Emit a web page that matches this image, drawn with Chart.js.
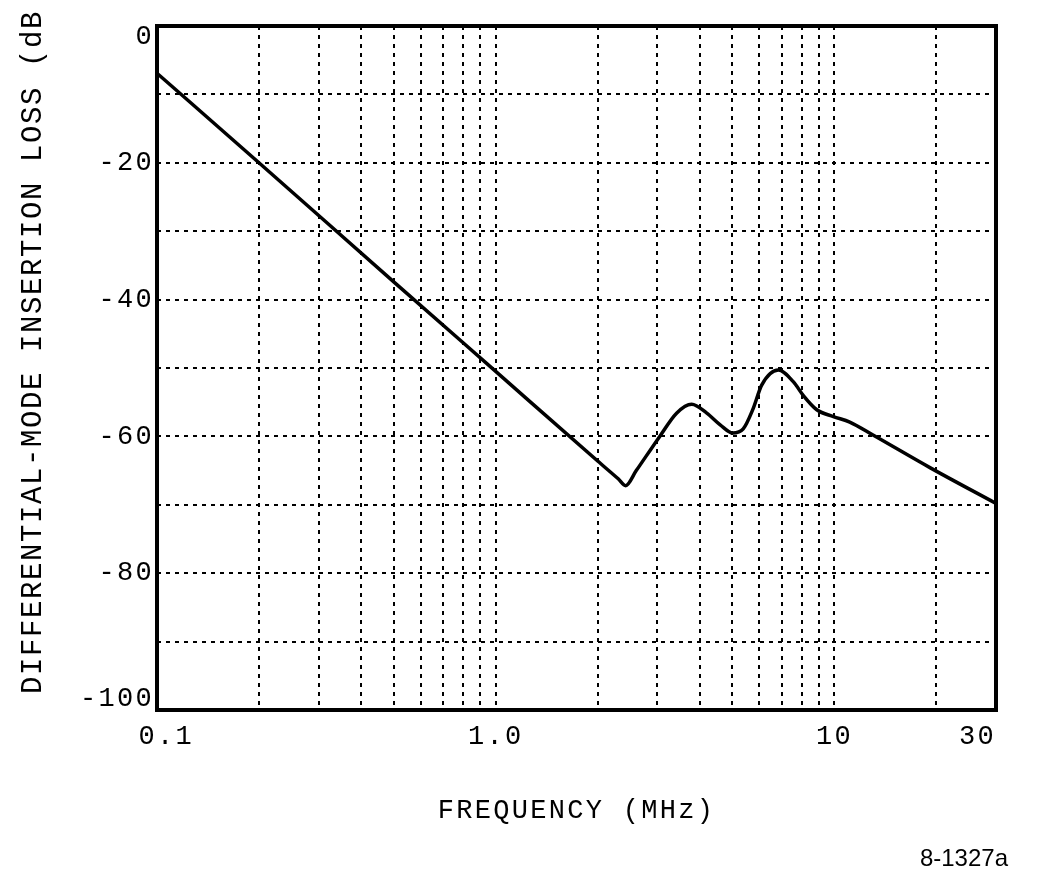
<!DOCTYPE html>
<html>
<head>
<meta charset="utf-8">
<title>Differential-mode insertion loss</title>
<script src="https://cdn.jsdelivr.net/npm/chart.js@4.4.1/dist/chart.umd.min.js"></script>
<style>
    html, body { margin: 0; padding: 0; background: #fff; overflow: hidden; }
    #wrap { width: 1045px; height: 874px; }
</style>
</head>
<body>
<div id="wrap"><canvas id="chart" width="1045" height="874"></canvas></div>
<script>
// curve (MHz, dB)
const freqMHz = [0.1, 0.2, 0.5, 1.0, 2.0, 2.3, 2.42, 2.6, 3.05, 3.42, 3.79, 4.2, 4.6, 5.01, 5.38, 5.76, 6.1, 6.83, 7.56, 8.09, 8.87, 9.93, 11.1, 13.0, 19.2, 30];
const lossDb = [-6.9, -20.0, -37.4, -50.5, -63.6, -66.2, -67.2, -65.0, -60.0, -56.6, -55.3, -56.6, -58.3, -59.5, -58.9, -55.9, -52.5, -50.3, -52.0, -54.0, -56.1, -57.1, -57.9, -59.8, -64.6, -69.8];

// grid lines and labels
const xGridValues = [0.1, 0.2, 0.3, 0.4, 0.5, 0.6, 0.7, 0.8, 0.9, 1, 2, 3, 4, 5, 6, 7, 8, 9, 10, 20, 30];
const xLabelValues = [0.1, 1, 10, 30];
const xLabelTexts = ['0.1', '1.0', '10', '30'];
const yLabelValues = [0, -20, -40, -60, -80, -100];

const xTitle = 'FREQUENCY (MHz)';
const yTitle = 'DIFFERENTIAL-MODE INSERTION LOSS (dB';
const figNote = '8-1327a';

const MONO = '"Liberation Mono", "DejaVu Sans Mono", monospace';

// monospace text in the picture is spaced out, canvas letterSpacing does that
const spacingPlugin = {
    id: 'spacing',
    beforeUpdate: function (chart) { chart.ctx.letterSpacing = '2.3px'; },
    beforeDraw: function (chart) { chart.ctx.letterSpacing = '2.3px'; }
};

// thick frame, rotated y title (cut off at the top like the original) and figure number
const framePlugin = {
    id: 'frame',
    afterDraw: function (chart) {
        const ctx = chart.ctx;
        const a = chart.chartArea;
        ctx.save();
        ctx.lineWidth = 4;
        ctx.strokeStyle = '#000';
        ctx.strokeRect(a.left, a.top, a.right - a.left, a.bottom - a.top);
        ctx.restore();

        ctx.save();
        ctx.letterSpacing = '1.6px';
        ctx.font = '29px ' + MONO;
        ctx.fillStyle = '#000';
        ctx.textAlign = 'left';
        ctx.textBaseline = 'alphabetic';
        ctx.translate(41, 694);
        ctx.rotate(-Math.PI / 2);
        ctx.fillText(yTitle, 0, 0);
        ctx.restore();

        ctx.save();
        ctx.letterSpacing = '0px';
        ctx.font = '24px "Liberation Sans", Arial, sans-serif';
        ctx.fillStyle = '#000';
        ctx.textAlign = 'right';
        ctx.textBaseline = 'alphabetic';
        ctx.fillText(figNote, 1008, 866);
        ctx.restore();
    }
};

const points = freqMHz.map(function (f, i) { return { x: f, y: lossDb[i] }; });

new Chart(document.getElementById('chart'), {
    type: 'line',
    data: {
        datasets: [{
            data: points,
            borderColor: '#000',
            borderWidth: 3.5,
            pointRadius: 0,
            fill: false,
            cubicInterpolationMode: 'monotone'
        }]
    },
    options: {
        responsive: false,
        devicePixelRatio: 1,
        animation: false,
        layout: { padding: { top: 26, right: 49, left: 0, bottom: 0 } },
        plugins: {
            legend: { display: false },
            tooltip: { enabled: false }
        },
        scales: {
            x: {
                type: 'logarithmic',
                min: 0.1,
                max: 30,
                afterBuildTicks: function (scale) {
                    scale.ticks = xGridValues.map(function (v) { return { value: v }; });
                },
                afterFit: function (scale) { scale.height = 164; },
                grid: { color: '#000', lineWidth: 2, drawTicks: false },
                border: { display: false, dash: [4, 5] },
                ticks: {
                    autoSkip: false,
                    maxRotation: 0,
                    padding: 11,
                    color: '#000',
                    font: { family: MONO, size: 27 },
                    callback: function (value) {
                        const i = xLabelValues.indexOf(value);
                        if (i < 0) return '';
                        // end labels sit inside the frame
                        if (i === 0) return ' ' + xLabelTexts[i];
                        if (i === xLabelValues.length - 1) return xLabelTexts[i] + '  ';
                        return xLabelTexts[i];
                    }
                },
                title: {
                    display: true,
                    text: xTitle,
                    color: '#000',
                    font: { family: MONO, size: 27 },
                    padding: { top: 0, bottom: 47 }
                }
            },
            y: {
                min: -100,
                max: 0,
                afterFit: function (scale) { scale.width = 157; },
                grid: { color: '#000', lineWidth: 2, drawTicks: false },
                border: { display: false, dash: [4, 5] },
                ticks: {
                    stepSize: 10,
                    padding: 3,
                    color: '#000',
                    font: { family: MONO, size: 27, lineHeight: 0.81 },
                    callback: function (value) {
                        if (yLabelValues.indexOf(value) < 0) return '';
                        // top and bottom labels are pushed inside
                        if (value === 0) return ['', String(value)];
                        if (value === -100) return [String(value), ''];
                        return String(value);
                    }
                }
            }
        }
    },
    plugins: [spacingPlugin, framePlugin]
});
</script>
</body>
</html>
